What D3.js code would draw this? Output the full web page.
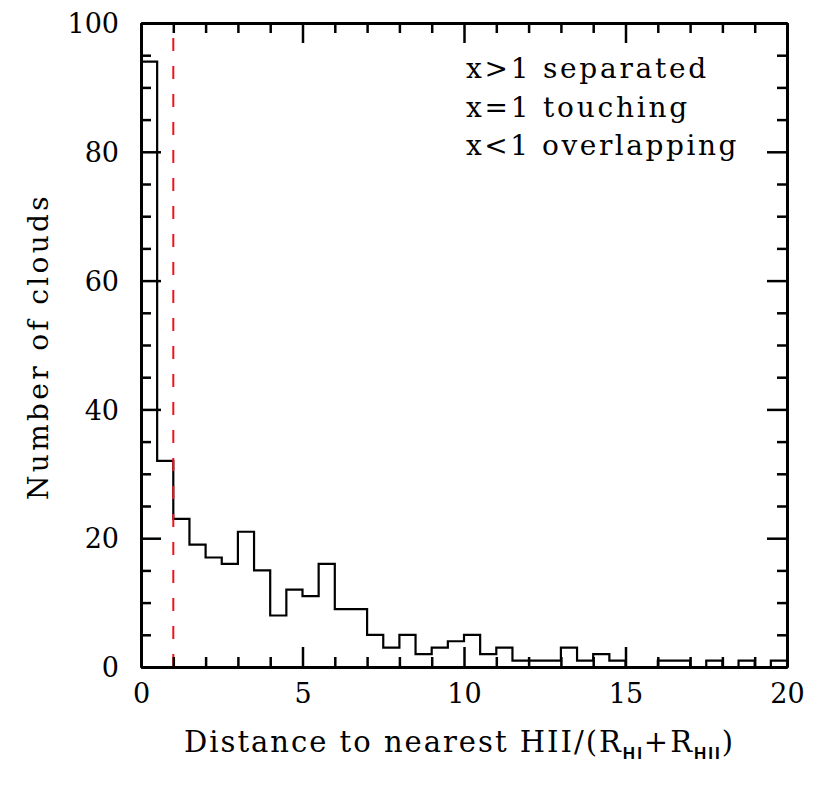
<!DOCTYPE html>
<html>
<head>
<meta charset="utf-8">
<script src="https://cdn.jsdelivr.net/npm/d3@7"></script>
<style>
  body { margin: 0; background: #fff; }
  svg text { font-family: "DejaVu Serif", "Liberation Serif", serif; fill: #000; }
  .axis path { stroke: #000; stroke-width: 3; }
  .axis line { stroke: #000; stroke-width: 2.5; }
</style>
</head>
<body>
<svg width="831" height="804"></svg>
<script>
// bin left edges (width 0.5) and counts
var binLefts = [0, 0.5, 1, 1.5, 2, 2.5, 3, 3.5, 4, 4.5, 5, 5.5, 6, 6.5, 7, 7.5, 8, 8.5, 9, 9.5,
                10, 10.5, 11, 11.5, 12, 12.5, 13, 13.5, 14, 14.5, 15, 15.5, 16, 16.5, 17, 17.5, 18, 18.5, 19, 19.5];
var counts   = [94, 32, 23, 19, 17, 16, 21, 15, 8, 12, 11, 16, 9, 9, 5, 3, 5, 2, 3, 4,
                5, 2, 3, 1, 1, 1, 3, 1, 2, 1, 0, 0, 1, 1, 0, 1, 0, 1, 0, 1];
var binWidth = 0.5;

var xMajor = [0, 5, 10, 15, 20];
var xMinor = [1, 2, 3, 4, 6, 7, 8, 9, 11, 12, 13, 14, 16, 17, 18, 19];
var yMajor = [0, 20, 40, 60, 80, 100];
var yMinor = [5, 10, 15, 25, 30, 35, 45, 50, 55, 65, 70, 75, 85, 90, 95];

var legendLines = ["x>1 separated", "x=1 touching", "x<1 overlapping"];
var legendWidths = [243, 224, 273];
var touchX = 1;

var svg = d3.select("svg");
var padding = {top: 23, bottom: 137, left: 141, right: 44};
var width = +svg.attr("width");
var height = +svg.attr("height");
var canvasWidth = width - padding.left - padding.right;
var canvasHeight = height - padding.top - padding.bottom;

var canvas = svg.append("g")
  .attr("transform", "translate(" + padding.left + "," + padding.top + ")");

var x = d3.scaleLinear().domain([0, 20]).range([0, canvasWidth]);
var y = d3.scaleLinear().domain([0, 100]).range([canvasHeight, 0]);

// stretch a text element to a given width with letter spacing
function fitWidth(sel, target) {
  var n = sel.text().length;
  var len = sel.node().getComputedTextLength();
  sel.style("letter-spacing", ((target - len) / n) + "px");
}

// histogram as a step line
var pts = binLefts.map(function(d, i) { return [d, counts[i]]; });
pts.push([binLefts[binLefts.length - 1] + binWidth, counts[counts.length - 1]]);
var step = d3.line()
  .x(function(d) { return x(d[0]); })
  .y(function(d) { return y(d[1]); })
  .curve(d3.curveStepAfter);

canvas.append("path")
  .attr("d", step(pts))
  .style("fill", "none")
  .style("stroke", "#000")
  .style("stroke-width", 2.2);

// red dashed line at x=1
canvas.append("line")
  .attr("x1", x(touchX)).attr("x2", x(touchX))
  .attr("y1", y(0)).attr("y2", y(100))
  .style("stroke", "#f0141e")
  .style("stroke-width", 2)
  .style("stroke-dasharray", "13,15");

// axes, ticks pointing inward on all four sides
function addAxis(axisFn, scale, vals, size, labels, tr) {
  var a = axisFn(scale).tickValues(vals).tickSize(size).tickSizeOuter(0);
  if (!labels) a.tickFormat("");
  var g = canvas.append("g").attr("class", "axis");
  if (tr) g.attr("transform", tr);
  g.call(a);
  return g;
}

var gxb = addAxis(d3.axisBottom, x, xMajor, -20, true, "translate(0," + canvasHeight + ")");
addAxis(d3.axisBottom, x, xMinor, -10, false, "translate(0," + canvasHeight + ")");
addAxis(d3.axisTop, x, xMajor, -20, false, null);
addAxis(d3.axisTop, x, xMinor, -10, false, null);
var gyl = addAxis(d3.axisLeft, y, yMajor, -20, true, null);
addAxis(d3.axisLeft, y, yMinor, -10, false, null);
addAxis(d3.axisRight, y, yMajor, -20, false, "translate(" + canvasWidth + ",0)");
addAxis(d3.axisRight, y, yMinor, -10, false, "translate(" + canvasWidth + ",0)");

gxb.selectAll(".tick text").style("font-size", "27px").attr("y", 12).attr("dy", "0.9em");
gyl.selectAll(".tick text").style("font-size", "27px").attr("x", -22).attr("dy", "0.36em");

// legend text
canvas.selectAll(".legend")
  .data(legendLines)
  .enter()
  .append("text")
  .attr("class", "legend")
  .attr("x", 325)
  .attr("y", function(d, i) { return 55 + i * 38.5; })
  .style("font-size", "28px")
  .text(function(d) { return d; })
  .each(function(d, i) { fitWidth(d3.select(this), legendWidths[i]); });

// axis titles
var subFont = "Liberation Sans Narrow, Liberation Sans, sans-serif";
var xt = svg.append("text")
  .attr("x", 184)
  .attr("y", 752)
  .style("font-size", "29px");
xt.append("tspan").text("Distance to nearest HII/(R");
xt.append("tspan").attr("dy", 7).style("font-size", "17px").style("font-family", subFont).style("font-weight", "bold").text("HI");
xt.append("tspan").attr("dy", -7).text("+R");
xt.append("tspan").attr("dy", 7).style("font-size", "17px").style("font-family", subFont).style("font-weight", "bold").text("HII");
xt.append("tspan").attr("dy", -7).text(")");
fitWidth(xt, 551);

var yt = svg.append("text")
  .attr("transform", "translate(48,500) rotate(-90)")
  .style("font-size", "28px")
  .text("Number of clouds");
fitWidth(yt, 307);
</script>
</body>
</html>
